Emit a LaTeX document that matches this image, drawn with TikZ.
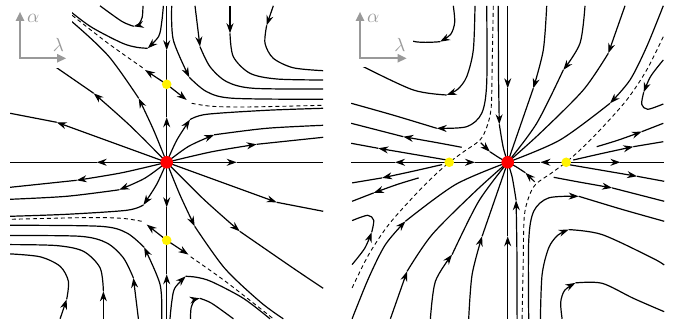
\documentclass[tikz,border=0pt]{standalone}
\usetikzlibrary{arrows.meta}
\definecolor{axisgray}{gray}{0.6}
\tikzset{
	curve/.style={line width=1.2pt, line join=round},
	sepline/.style={line width=0.9pt, dash pattern=on 4pt off 3pt},
	tipped/.style={-{Stealth[length=10pt,width=7pt]}},
	critpt/.style={circle, inner sep=0pt, minimum size=#1},
	axlbl/.style={text=axisgray, scale=1.9, transform shape},
	axarrow/.style={draw=axisgray, line width=2pt, {Triangle[length=9pt,width=8pt]}-{Triangle[length=9pt,width=8pt]}}
}
% one trajectory: the part up to its arrow, then the rest
\newcommand{\flowpath}[2]{%
	\draw[curve, tipped] plot[smooth] coordinates {#1};
	\draw[curve] plot[smooth] coordinates {#2};}

\begin{document}
\begin{tikzpicture}[x=1pt, y=1pt]
\useasboundingbox (0,0) rectangle (675,320);

% left panel: source in the middle, two saddles on the alpha axis
\begin{scope}[shift={(166.7,157.7)}]
\foreach \r in {0,180}{
\begin{scope}[rotate=\r]
\flowpath{(0,0) (70,0)}{(70,0) (156.5,0)}
\flowpath{(0,0) (0,45)}{(0,45) (0,78)}
\flowpath{(0,156.5) (0,112)}{(0,112) (0,78)}
% rays out of the node
\flowpath{(0,0) (-55,20) (-110,40)}{(-110,40) (-156.5,49)}
\flowpath{(0,0) (-36.7,36.7) (-73,69)}{(-73,69) (-126.7,106) (-156.5,126)}
\flowpath{(0,0) (-13.3,32.7) (-28,64)}{(-28,64) (-58,106) (-94,140) (-116.6,156.5)}
\flowpath{(0,0) (10,22) (23.3,42.7)}{(23.3,42.7) (40,48) (100,52) (156.5,54)}
\flowpath{(0,0) (22,16) (47.5,27.5)}{(47.5,27.5) (100,34) (156.5,37)}
\flowpath{(0,0) (45,10.5) (90,18)}{(90,18) (156.5,25)}
% coming in from the top
\flowpath{(106.6,156.5) (100,137)}{(100,137) (98.3,119) (106.6,104) (126.6,94.5) (156.5,91.6)}
\flowpath{(63.3,156.5) (63.3,129)}{(63.3,129) (66.6,105.6) (83.3,89) (110,83.3) (156.5,82.3)}
\flowpath{(28.3,156.5) (33.3,115.6)}{(33.3,115.6) (43.3,95.6) (60,80.6) (86.6,74) (156.5,73.3)}
\flowpath{(5,156.5) (6.6,122.3) (22.6,85)}{(22.6,85) (40,70.6) (66.6,64) (156.5,63)}
\flowpath{(-3.3,156.5) (-5,140) (-8,126) (-19,114)}{(-19,114) (-30,115) (-45,119.4) (-76.6,136) (-103.3,156.5)}
\flowpath{(-23.7,156.5) (-24.5,145) (-28,138) (-33,136)}{(-33,136) (-45,141) (-66.7,156.5)}
% separatrices of the saddle
\draw[curve, tipped] (0,78) -- (-21.7,92.3);
\draw[curve, tipped] (0,78) -- (20,62.3);
\draw[sepline] plot[smooth] coordinates {(-24,94.5) (-60,120) (-106.6,156.5)};
\draw[sepline] plot[smooth] coordinates {(25,59) (45,56) (80,55.3) (156.5,57)};
\end{scope}}
\fill[white] (-160,94.5) rectangle (-94.5,160);
\draw[axarrow] (-146.7,150.5) -- (-146.7,104) -- (-100.5,104);
\node[axlbl] (alphaL) at (-133.4,144) {$\alpha$};
\node[axlbl] (lambdaL) at (-108.4,117.3) {$\lambda$};
\node[critpt=12.6pt, fill=red] (nodeL) at (0,0) {};
\node[critpt=9.6pt, fill=yellow] (sadLup) at (0,78) {};
\node[critpt=9.6pt, fill=yellow] (sadLdn) at (0,-78) {};
\end{scope}

% right panel: sink in the middle, two saddles on the lambda axis
\begin{scope}[shift={(507.7,157.7)}]
\foreach \r in {0,180}{
\begin{scope}[rotate=\r]
\flowpath{(-58.5,0) (-112.7,0)}{(-112.7,0) (-156.5,0)}
\flowpath{(-58.5,0) (-32.7,0)}{(-32.7,0) (0,0)}
\flowpath{(0,156.5) (0,74)}{(0,74) (0,0)}
% into the node
\flowpath{(-9.4,156.5) (-9.2,90) (-8.4,38)}{(-8.4,38) (-4.5,15) (0,0)}
\flowpath{(-27,19.5) (-17.7,10.5)}{(-17.7,10.5) (-8,4.2) (0,0)}
\flowpath{(39,156.5) (35.6,112.3) (25.6,74)}{(25.6,74) (12.3,35.6) (0,0)}
\flowpath{(77.3,156.5) (72.3,119) (55.6,92.3)}{(55.6,92.3) (29,39) (0,0)}
\flowpath{(117.3,156.5) (100.6,109)}{(100.6,109) (75.6,72.3) (32.3,29) (0,0)}
\flowpath{(155.6,156.5) (139,115.6) (122.3,82.3) (102.3,59)}{(102.3,59) (52.3,22.3) (0,0)}
% out to the sides
\flowpath{(-62,2.5) (-100,9) (-129.4,14)}{(-129.4,14) (-156.5,19)}
\flowpath{(-46,15) (-70,19.5) (-104.4,25.6)}{(-104.4,25.6) (-156.5,39)}
\flowpath{(-21,156.5) (-21,79) (-26,49) (-41,35.6) (-71,34)}{(-71,34) (-114,47) (-156.5,59)}
\flowpath{(-32.7,156.5) (-34.4,112.3) (-41,85.6) (-50,73) (-61,67.3)}{(-61,67.3) (-94.4,72.3) (-144.4,95.6) (-156.5,102.7)}
\flowpath{(-54.4,156.5) (-53,140) (-57,128) (-67.7,120.6)}{(-67.7,120.6) (-94.4,121) (-125.6,136) (-156.5,149.4)}
\flowpath{(155.6,102.3) (143,86) (136,70)}{(136,70) (134,58) (140,53) (155.6,58.3)}
\flowpath{(89,15.6) (110,22) (134,30.6)}{(134,30.6) (155.6,39)}
\flowpath{(65.6,2.3) (95,9) (125.6,15.6)}{(125.6,15.6) (155.6,20.6)}
% stable separatrices of the saddles
\draw[sepline] plot[smooth] coordinates {(-14.4,156.5) (-15.5,100) (-16.5,55) (-21,35) (-28,22) (-44,10.6) (-58.5,0)};
\draw[sepline] plot[smooth] coordinates {(155.6,125.6) (139,92.3) (119,62.3) (92.3,32.3) (72.3,12.3) (58.5,0)};
\end{scope}}
\fill[white] (-160,95.6) rectangle (-94.4,160);
\draw[axarrow] (-147.7,150.5) -- (-147.7,104) -- (-101,104);
\node[axlbl] (alphaR) at (-134.4,144) {$\alpha$};
\node[axlbl] (lambdaR) at (-107.7,117.3) {$\lambda$};
\node[critpt=12.6pt, fill=red] (nodeR) at (0,0) {};
\node[critpt=9.6pt, fill=yellow] (sadRlf) at (-58.5,0) {};
\node[critpt=9.6pt, fill=yellow] (sadRrt) at (58.5,0) {};
\end{scope}
\end{tikzpicture}
\end{document}
